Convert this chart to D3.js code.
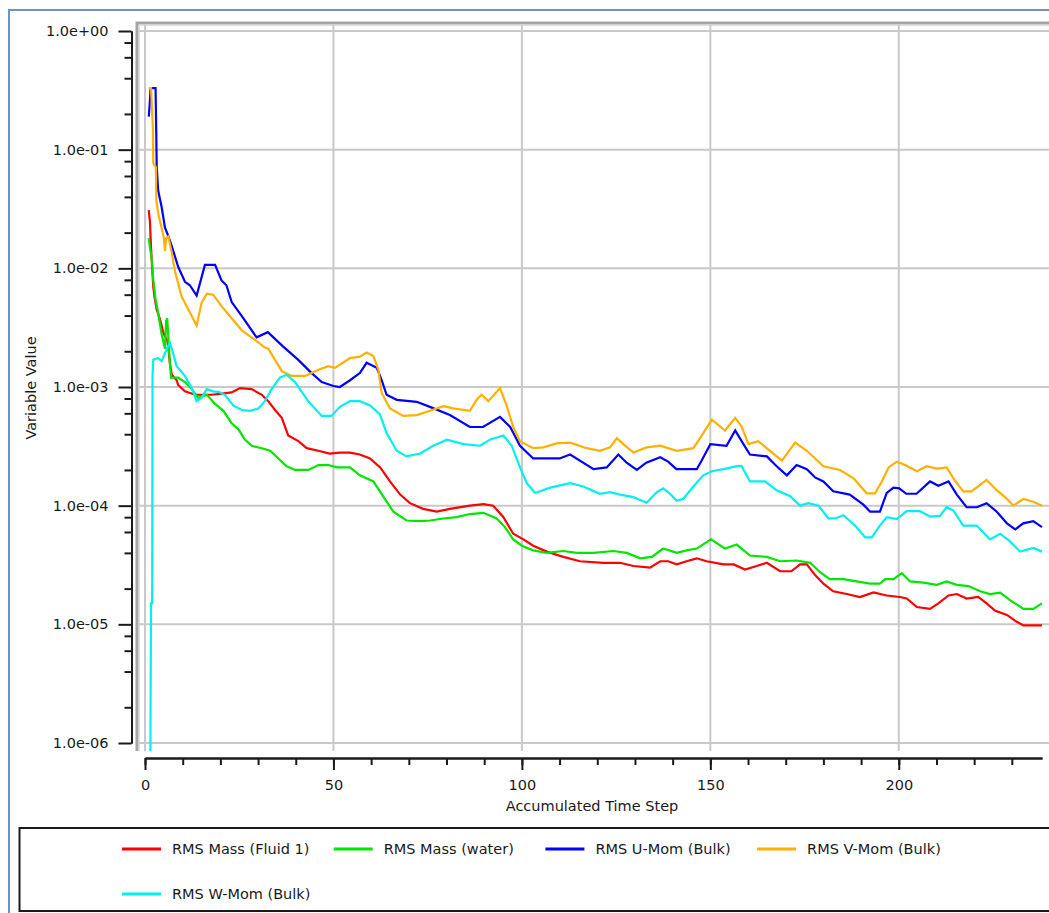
<!DOCTYPE html>
<html>
<head>
<meta charset="utf-8">
<script src="https://cdn.jsdelivr.net/npm/d3@7"></script>
<style>
  html, body { margin: 0; padding: 0; background: #ffffff; }
  svg { display: block; }
  text { font-family: "DejaVu Sans", Verdana, sans-serif; fill: #1a1a1a; }
</style>
</head>
<body>
<svg id="chart" width="1049" height="913"></svg>
<script>
// Residual histories: [accumulated time step, RMS value]
const rmsMassFluid1 = [
  [1, 3.1e-2], [1.3, 2.5e-2], [1.6, 1.5e-2], [1.9, 1.0e-2], [2.2, 7.0e-3], [2.5, 5.8e-3],
  [3.1, 4.5e-3], [4.0, 3.7e-3], [4.9, 2.85e-3], [5.5, 2.6e-3], [6.0, 2.4e-3], [6.3, 2.0e-3],
  [6.6, 1.6e-3], [7.1, 1.27e-3], [8.4, 1.14e-3], [8.8, 1.04e-3], [10.6, 9.2e-4], [13.3, 8.6e-4],
  [17.7, 8.6e-4], [20.4, 8.8e-4], [23, 9.0e-4], [25.2, 9.8e-4], [28.3, 9.6e-4], [31, 8.6e-4],
  [32.7, 7.6e-4], [34.5, 6.4e-4], [36.3, 5.5e-4], [38, 3.9e-4], [40.7, 3.5e-4], [42.9, 3.05e-4],
  [46, 2.9e-4], [49, 2.75e-4], [51.7, 2.8e-4], [54.4, 2.8e-4], [57, 2.7e-4], [59.7, 2.5e-4],
  [62.4, 2.1e-4], [65, 1.6e-4], [67.7, 1.24e-4], [70.3, 1.05e-4], [73.8, 9.4e-5], [77.4, 8.9e-5],
  [80.9, 9.4e-5], [86.2, 1.0e-4], [89.8, 1.03e-4], [92.4, 1.0e-4], [95.1, 8.0e-5], [97.7, 5.8e-5],
  [100.4, 5.2e-5], [103, 4.6e-5], [106.6, 4.1e-5], [111, 3.7e-5], [115.4, 3.4e-5], [121.6, 3.3e-5],
  [126, 3.3e-5], [129.6, 3.1e-5], [134, 3.0e-5], [136.7, 3.4e-5], [138.8, 3.4e-5], [141.1, 3.2e-5],
  [143.7, 3.4e-5], [146.4, 3.6e-5], [149, 3.4e-5], [153.5, 3.2e-5], [156.2, 3.2e-5], [159.2, 2.9e-5],
  [162.3, 3.1e-5], [165, 3.3e-5], [168.5, 2.8e-5], [171.5, 2.8e-5], [173.8, 3.2e-5], [175.6, 3.2e-5],
  [177.8, 2.6e-5], [180, 2.2e-5], [182.6, 1.9e-5], [186.2, 1.8e-5], [189.7, 1.7e-5], [193.3, 1.86e-5],
  [196.8, 1.75e-5], [200.3, 1.7e-5], [202.1, 1.65e-5], [204.8, 1.4e-5], [208.3, 1.35e-5], [210.5, 1.5e-5],
  [213.2, 1.75e-5], [215.4, 1.8e-5], [218, 1.65e-5], [221.1, 1.7e-5], [223.3, 1.5e-5], [225.6, 1.3e-5],
  [228.7, 1.2e-5], [231.3, 1.05e-5], [233.1, 9.8e-6], [238, 9.8e-6]
];

const rmsMassWater = [
  [1, 1.8e-2], [1.3, 1.5e-2], [1.8, 1.2e-2], [2.2, 8.0e-3], [2.8, 5.5e-3], [3.5, 4.2e-3],
  [4.4, 2.8e-3], [5.3, 2.1e-3], [5.6, 3.6e-3], [5.9, 3.8e-3], [6.2, 2.6e-3], [6.6, 1.6e-3],
  [6.9, 1.2e-3], [8.8, 1.2e-3], [10.6, 1.1e-3], [12.4, 9.6e-4], [14.1, 8.1e-4], [16.4, 8.6e-4],
  [18.6, 7.2e-4], [20.8, 6.3e-4], [23, 4.95e-4], [24.8, 4.4e-4], [26.5, 3.6e-4], [28.3, 3.2e-4],
  [31, 3.05e-4], [33.2, 2.9e-4], [35.4, 2.5e-4], [37.6, 2.15e-4], [39.8, 2.0e-4], [43.3, 2.0e-4],
  [46, 2.2e-4], [48.6, 2.2e-4], [51, 2.1e-4], [54.4, 2.1e-4], [57, 1.8e-4], [60.6, 1.6e-4],
  [63.2, 1.2e-4], [65.9, 8.9e-5], [69.4, 7.5e-5], [73, 7.4e-5], [75.6, 7.5e-5], [79.2, 7.8e-5],
  [82.7, 8.0e-5], [86.2, 8.5e-5], [89.8, 8.7e-5], [93.3, 7.8e-5], [95.5, 6.6e-5], [97.7, 5.2e-5],
  [100, 4.6e-5], [103, 4.2e-5], [106.6, 4.0e-5], [111, 4.15e-5], [114.6, 4.0e-5], [119, 4.0e-5],
  [124.3, 4.15e-5], [127.8, 4.0e-5], [131.4, 3.6e-5], [134.5, 3.7e-5], [137.5, 4.35e-5], [141.1, 4.0e-5],
  [143.7, 4.2e-5], [146.4, 4.35e-5], [150.2, 5.2e-5], [153.9, 4.35e-5], [157, 4.7e-5], [160.5, 3.8e-5],
  [165, 3.7e-5], [168.5, 3.4e-5], [172.9, 3.45e-5], [176.5, 3.3e-5], [179.1, 2.75e-5], [181.7, 2.4e-5],
  [185.3, 2.4e-5], [188.8, 2.3e-5], [192.4, 2.2e-5], [195, 2.2e-5], [196.4, 2.4e-5], [198.6, 2.4e-5],
  [200.8, 2.7e-5], [203, 2.3e-5], [206.5, 2.25e-5], [210.1, 2.15e-5], [212.7, 2.3e-5], [215.4, 2.15e-5],
  [218.5, 2.1e-5], [221.6, 1.9e-5], [224.2, 1.8e-5], [226.9, 1.85e-5], [229.5, 1.6e-5], [233.1, 1.35e-5],
  [235.7, 1.35e-5], [238, 1.5e-5]
];

const rmsUMom = [
  [1, 1.9e-1], [1.2, 2.3e-1], [1.5, 3.3e-1], [2.8, 3.3e-1], [3.0, 1.3e-1], [3.1, 7.2e-2],
  [3.5, 4.5e-2], [4.4, 3.3e-2], [5.3, 2.2e-2], [6.1, 1.9e-2], [7.1, 1.54e-2], [8.8, 1.03e-2],
  [10.6, 7.7e-3], [11.9, 7.2e-3], [13.7, 5.9e-3], [15.9, 1.07e-2], [18.6, 1.07e-2], [20.3, 7.9e-3],
  [21.6, 7.2e-3], [23, 5.2e-3], [25.6, 4.0e-3], [29.6, 2.62e-3], [32.6, 2.9e-3], [36.6, 2.2e-3],
  [40.6, 1.7e-3], [44.2, 1.31e-3], [46.9, 1.1e-3], [50, 1.02e-3], [51.7, 1.0e-3], [54.4, 1.14e-3],
  [57, 1.31e-3], [58.8, 1.6e-3], [61.5, 1.45e-3], [62.8, 1.14e-3], [64.1, 8.6e-4], [66.8, 7.8e-4],
  [72.1, 7.5e-4], [75.6, 6.8e-4], [80.9, 5.8e-4], [86.2, 4.6e-4], [89.7, 4.6e-4], [94.2, 5.6e-4],
  [96.9, 4.6e-4], [99.5, 3.2e-4], [103, 2.5e-4], [110, 2.5e-4], [112.8, 2.7e-4], [119, 2.03e-4],
  [122.5, 2.1e-4], [125.6, 2.7e-4], [127.8, 2.3e-4], [130.5, 2.0e-4], [133, 2.3e-4], [136.7, 2.56e-4],
  [138.8, 2.35e-4], [141, 2.03e-4], [146.4, 2.03e-4], [147.7, 2.4e-4], [150, 3.3e-4], [154.3, 3.2e-4],
  [156.6, 4.3e-4], [158.3, 3.5e-4], [160.5, 2.7e-4], [165, 2.6e-4], [167.6, 2.15e-4], [170.3, 1.8e-4],
  [172.9, 2.2e-4], [175.6, 2.03e-4], [177.8, 1.73e-4], [180, 1.6e-4], [182.6, 1.32e-4], [187, 1.24e-4],
  [190.6, 1.02e-4], [192.4, 8.9e-5], [195, 8.9e-5], [196.8, 1.28e-4], [198.6, 1.42e-4], [200.1, 1.4e-4],
  [202, 1.26e-4], [204.7, 1.26e-4], [208.3, 1.6e-4], [210.5, 1.47e-4], [213.2, 1.6e-4], [215.4, 1.24e-4],
  [218, 9.7e-5], [220.7, 9.7e-5], [223.3, 1.05e-4], [226, 8.9e-5], [228.7, 7.1e-5], [230.9, 6.3e-5],
  [233, 7.1e-5], [235.7, 7.4e-5], [238, 6.6e-5]
];

const rmsVMom = [
  [1, 3.3e-1], [1.6, 3.3e-1], [2.1, 1.5e-1], [2.2, 7.7e-2], [2.9, 7.1e-2], [3.0, 3.8e-2],
  [3.5, 2.9e-2], [4.4, 2.2e-2], [5.0, 1.8e-2], [5.3, 1.4e-2], [5.6, 1.8e-2], [6.2, 1.86e-2],
  [7.1, 1.35e-2], [8, 9.3e-3], [9.7, 5.8e-3], [11.5, 4.5e-3], [13.7, 3.3e-3], [15, 5.1e-3],
  [16.4, 6.1e-3], [18.1, 6.0e-3], [20.3, 4.8e-3], [23, 3.8e-3], [25.7, 3.0e-3], [29.2, 2.5e-3],
  [31.8, 2.15e-3], [32.7, 2.1e-3], [36.3, 1.36e-3], [38.9, 1.24e-3], [42.5, 1.24e-3], [46, 1.4e-3],
  [48.6, 1.5e-3], [50.4, 1.45e-3], [54.4, 1.75e-3], [57, 1.8e-3], [58.8, 1.95e-3], [60.6, 1.82e-3],
  [61.9, 1.4e-3], [62.8, 8.9e-4], [65, 6.6e-4], [68.5, 5.7e-4], [72.1, 5.8e-4], [75.6, 6.3e-4],
  [79.2, 6.9e-4], [81.8, 6.6e-4], [86.2, 6.3e-4], [88, 7.8e-4], [89.3, 8.6e-4], [91.1, 7.6e-4],
  [94.2, 9.8e-4], [96, 6.9e-4], [97.7, 4.6e-4], [99.5, 3.5e-4], [103, 3.05e-4], [105.7, 3.1e-4],
  [109.2, 3.35e-4], [112.8, 3.4e-4], [117.2, 3.05e-4], [120.7, 2.9e-4], [123.4, 3.1e-4], [125.2, 3.7e-4],
  [126.9, 3.3e-4], [129.6, 2.8e-4], [133.1, 3.1e-4], [136.7, 3.2e-4], [141.1, 2.9e-4], [145.5, 3.05e-4],
  [147.7, 3.9e-4], [150.4, 5.3e-4], [153.9, 4.3e-4], [156.6, 5.5e-4], [158.3, 4.65e-4], [160.1, 3.3e-4],
  [162.7, 3.5e-4], [165.8, 2.9e-4], [169, 2.4e-4], [172.5, 3.4e-4], [175.6, 2.9e-4], [180, 2.15e-4],
  [184.4, 2.0e-4], [188, 1.7e-4], [191.5, 1.27e-4], [193.7, 1.27e-4], [195.5, 1.6e-4], [197.3, 2.1e-4],
  [199.5, 2.35e-4], [201.7, 2.2e-4], [204.8, 1.95e-4], [207.4, 2.15e-4], [210.1, 2.05e-4], [212.7, 2.1e-4],
  [214.5, 1.7e-4], [217.1, 1.32e-4], [219.3, 1.32e-4], [221.6, 1.5e-4], [223.3, 1.65e-4], [226, 1.35e-4],
  [228.7, 1.14e-4], [230.4, 1.0e-4], [233.1, 1.14e-4], [235.7, 1.08e-4], [238, 1.0e-4]
];

const rmsWMom = [
  [1.4, 5e-7], [1.6, 1.5e-5], [1.9, 1.5e-5], [2.0, 1.24e-3], [2.2, 1.7e-3], [3.5, 1.75e-3],
  [4.4, 1.65e-3], [5.8, 2.1e-3], [6.6, 2.35e-3], [7.5, 1.9e-3], [8.4, 1.5e-3], [10.6, 1.24e-3],
  [12.4, 9.8e-4], [13.7, 7.6e-4], [15, 8.1e-4], [16.4, 9.6e-4], [18.1, 9.2e-4], [19.5, 9.1e-4],
  [21.2, 8.6e-4], [23.4, 7.0e-4], [25.7, 6.4e-4], [27.9, 6.3e-4], [30.1, 6.6e-4], [31.8, 7.6e-4],
  [33.6, 9.6e-4], [35.8, 1.2e-3], [37.6, 1.27e-3], [39.8, 1.1e-3], [43.3, 7.6e-4], [46.9, 5.7e-4],
  [49.5, 5.7e-4], [51.7, 6.8e-4], [54.4, 7.6e-4], [57, 7.6e-4], [59.7, 7.0e-4], [62.3, 5.9e-4],
  [64.1, 4.1e-4], [66.8, 2.9e-4], [69.4, 2.6e-4], [73, 2.75e-4], [76.5, 3.2e-4], [80.1, 3.6e-4],
  [84.5, 3.3e-4], [88.9, 3.2e-4], [91.5, 3.6e-4], [95.1, 3.9e-4], [97.3, 3.2e-4], [99.5, 2.1e-4],
  [101.3, 1.55e-4], [103.5, 1.28e-4], [107.5, 1.42e-4], [112.8, 1.55e-4], [116.3, 1.45e-4], [120.7, 1.26e-4],
  [123.4, 1.3e-4], [126, 1.24e-4], [129.6, 1.18e-4], [133.1, 1.06e-4], [135.8, 1.3e-4], [137.5, 1.4e-4],
  [139.3, 1.26e-4], [141.1, 1.1e-4], [142.8, 1.14e-4], [145.5, 1.45e-4], [148.1, 1.8e-4], [150.4, 1.95e-4],
  [153.5, 2.03e-4], [157, 2.15e-4], [158.3, 2.15e-4], [160.5, 1.6e-4], [164.5, 1.6e-4], [167.6, 1.35e-4],
  [171.2, 1.2e-4], [173.8, 1.0e-4], [176, 1.05e-4], [178.7, 1.0e-4], [181.3, 7.8e-5], [183.1, 7.8e-5],
  [185.3, 8.3e-5], [188.4, 6.8e-5], [191.1, 5.4e-5], [192.8, 5.4e-5], [195, 6.8e-5], [196.8, 8.0e-5],
  [199.5, 7.7e-5], [202.1, 9.0e-5], [205.6, 9.0e-5], [208.3, 8.1e-5], [210.9, 8.2e-5], [212.7, 9.7e-5],
  [214.5, 9.1e-5], [217.1, 6.8e-5], [220.7, 6.8e-5], [224.2, 5.2e-5], [226.9, 5.8e-5], [229.5, 5.0e-5],
  [232.2, 4.1e-5], [235.7, 4.4e-5], [238, 4.1e-5]
];

const seriesNames = ["RMS Mass (Fluid 1)", "RMS Mass (water)", "RMS U-Mom (Bulk)", "RMS V-Mom (Bulk)", "RMS W-Mom (Bulk)"];
const seriesColors = ["#ff0000", "#00e600", "#0000ff", "#ffb000", "#00f0f0"];
const seriesData = [rmsMassFluid1, rmsMassWater, rmsUMom, rmsVMom, rmsWMom];

const xMajorTicks = [0, 50, 100, 150, 200];
const xMinorTicks = d3.range(0, 240, 10);
const yMajorTicks = [1e0, 1e-1, 1e-2, 1e-3, 1e-4, 1e-5, 1e-6];
const yTickLabels = ["1.0e+00", "1.0e-01", "1.0e-02", "1.0e-03", "1.0e-04", "1.0e-05", "1.0e-06"];
const yMinorTicks = [];
for (let e = -6; e < 0; e++) for (const m of [2, 4, 6, 8]) yMinorTicks.push(m * Math.pow(10, e));

const xTitle = "Accumulated Time Step";
const yTitle = "Variable Value";

// ---- layout ----
const W = 1049, H = 913;
const plot = { left: 137, top: 23, right: 1052, bottom: 751 };
const svg = d3.select("#chart");

const x = d3.scaleLinear().domain([0, 238]).range([145, 1042]);
const y = d3.scaleLog().domain([1e-6, 1]).range([743, 31]);

// window frame
svg.append("rect").attr("x", 0).attr("y", 0).attr("width", W).attr("height", H).attr("fill", "#ffffff");
svg.append("path")
  .attr("d", `M9,${H} V10 H${W}`)
  .attr("fill", "none").attr("stroke", "#6a93c9").attr("stroke-width", 2);

// plot frame
svg.append("path")
  .attr("d", `M${plot.left},${plot.bottom} V${plot.top} H${plot.right}`)
  .attr("fill", "none").attr("stroke", "#a6a6a6").attr("stroke-width", 3);
svg.append("path")
  .attr("d", `M${plot.left + 2.5},${plot.bottom} V${plot.top + 2.5} H${plot.right}`)
  .attr("fill", "none").attr("stroke", "#dedede").attr("stroke-width", 1);

// grid
const grid = svg.append("g").attr("stroke", "#c9c9c9").attr("stroke-width", 2);
grid.selectAll("line.h").data(yMajorTicks).join("line")
  .attr("class", "h")
  .attr("x1", plot.left + 2).attr("x2", plot.right)
  .attr("y1", d => y(d)).attr("y2", d => y(d));
grid.selectAll("line.v").data(xMajorTicks).join("line")
  .attr("class", "v")
  .attr("x1", d => x(d)).attr("x2", d => x(d))
  .attr("y1", plot.top + 2).attr("y2", plot.bottom);

// series
svg.append("clipPath").attr("id", "plotClip")
  .append("rect")
  .attr("x", plot.left + 2).attr("y", plot.top + 2)
  .attr("width", plot.right - plot.left).attr("height", plot.bottom - plot.top - 2);

const line = d3.line().x(d => x(d[0])).y(d => y(d[1]));
svg.append("g").attr("clip-path", "url(#plotClip)")
  .selectAll("path").data(seriesData).join("path")
  .attr("d", line)
  .attr("fill", "none")
  .attr("stroke", (d, i) => seriesColors[i])
  .attr("stroke-width", 2.2)
  .attr("stroke-linejoin", "miter");

// y axis
const yAxisX = 131.5;
const yMinor = svg.append("g").attr("transform", `translate(${yAxisX},0)`)
  .call(d3.axisLeft(y).tickValues(yMinorTicks).tickSize(7).tickSizeOuter(0).tickFormat(""));
const yMajor = svg.append("g").attr("transform", `translate(${yAxisX},0)`)
  .call(d3.axisLeft(y).tickValues(yMajorTicks).tickSize(13).tickSizeOuter(0).tickPadding(10)
    .tickFormat((d, i) => yTickLabels[i]));

// x axis
const xAxisY = 758;
const xMinor = svg.append("g").attr("transform", `translate(0,${xAxisY})`)
  .call(d3.axisBottom(x).tickValues(xMinorTicks).tickSize(7).tickSizeOuter(0).tickFormat(""));
const xMajor = svg.append("g").attr("transform", `translate(0,${xAxisY})`)
  .call(d3.axisBottom(x).tickValues(xMajorTicks).tickSize(12).tickSizeOuter(0).tickPadding(10)
    .tickFormat(d3.format("d")));

[yMinor, yMajor, xMinor, xMajor].forEach(g => {
  g.attr("font-size", 14.5).attr("font-family", "DejaVu Sans");
  g.selectAll("path.domain").attr("stroke", "#1a1a1a").attr("stroke-width", 2);
  g.selectAll(".tick line").attr("stroke", "#1a1a1a").attr("stroke-width", 2);
  g.selectAll(".tick text").attr("font-size", 14.5).attr("fill", "#1a1a1a");
});

// axis titles
svg.append("text")
  .attr("transform", "translate(31,388) rotate(-90)")
  .attr("text-anchor", "middle").attr("dominant-baseline", "central")
  .attr("font-size", 14.5)
  .text(yTitle);
svg.append("text")
  .attr("x", 592).attr("y", 806)
  .attr("text-anchor", "middle").attr("dominant-baseline", "central")
  .attr("font-size", 14.5)
  .text(xTitle);

// legend
svg.append("rect")
  .attr("x", 19.5).attr("y", 828).attr("width", 1040).attr("height", 83)
  .attr("fill", "#ffffff").attr("stroke", "#1a1a1a").attr("stroke-width", 2);

const legendItems = svg.append("g").selectAll("g").data(seriesNames).join("g")
  .attr("transform", (d, i) => `translate(${122 + (i % 4) * 211.7},${i < 4 ? 849 : 894})`);
legendItems.append("line")
  .attr("x1", 0).attr("x2", 39).attr("y1", 0).attr("y2", 0)
  .attr("stroke", (d, i) => seriesColors[i]).attr("stroke-width", 3);
legendItems.append("text")
  .attr("x", 50).attr("y", 0)
  .attr("dominant-baseline", "central")
  .attr("font-size", 14.5)
  .text(d => d);
</script>
</body>
</html>
